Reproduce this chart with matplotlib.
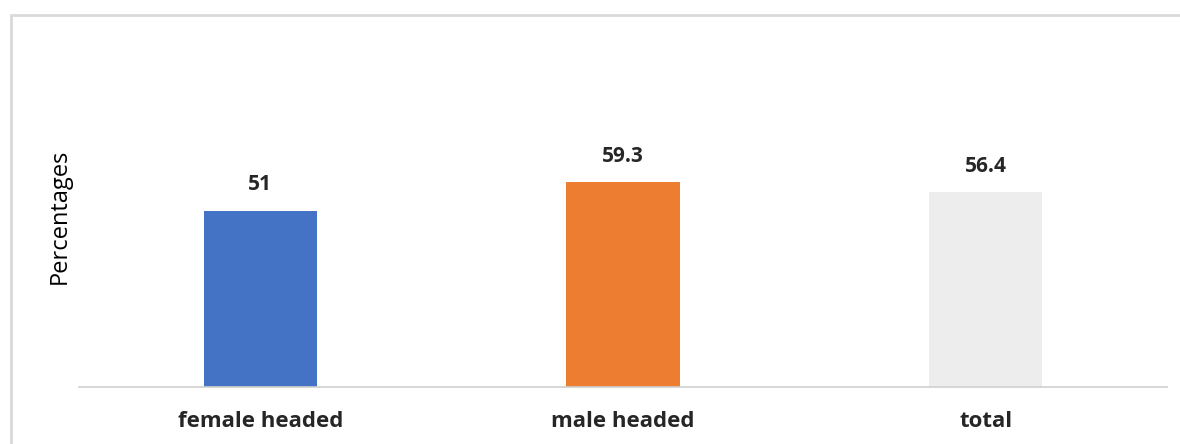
import matplotlib
matplotlib.use("Agg")
import matplotlib.pyplot as plt
from matplotlib.patches import Rectangle

categories = ["female headed", "male headed", "total"]
values = [51, 59.3, 56.4]
value_labels = ["51", "59.3", "56.4"]
colors = ["#4472C4", "#ED7D31", "#EDEDED"]

plt.rcParams['font.family'] = ['Open Sans', 'DejaVu Sans']

W, H = 1180, 444
fig = plt.figure(figsize=(W / 100, H / 100), dpi=100)

# outer chart border (top and left visible)
fig.add_artist(Rectangle((11 / W, -0.1), 1.2, (H - 15) / H + 0.1,
                         transform=fig.transFigure, fill=False,
                         edgecolor="#D9D9D9", linewidth=2))

left, right = 79 / W, 1167 / W
bottom = (H - 387) / H
top = (H - 41) / H
ax = fig.add_axes([left, bottom, right - left, top - bottom])

x = range(len(categories))
bars = ax.bar(x, values, width=0.312, color=colors)
ax.set_xlim(-0.5, 2.5)
ax.set_ylim(0, 100)

for b, lab in zip(bars, value_labels):
    ax.annotate(lab, (b.get_x() + b.get_width() / 2, b.get_height()),
                xytext=(0, 11), textcoords="offset points",
                ha="center", va="bottom", fontsize=15, fontweight="bold",
                color="#262626")

for s in ["top", "right", "left"]:
    ax.spines[s].set_visible(False)
ax.spines["bottom"].set_color("#D0D0D0")
ax.spines["bottom"].set_linewidth(1.2)
ax.set_yticks([])
ax.set_xticks(list(x))
ax.set_xticklabels(categories, fontsize=16, fontweight="bold", color="#262626")
ax.tick_params(axis="x", length=0, pad=17)

fig.text(60 / W, (H - 216) / H, "Percentages", rotation=90, ha="center",
         va="center", fontsize=17, color="#000000")

fig.savefig("out.png", dpi=100, facecolor="white")
